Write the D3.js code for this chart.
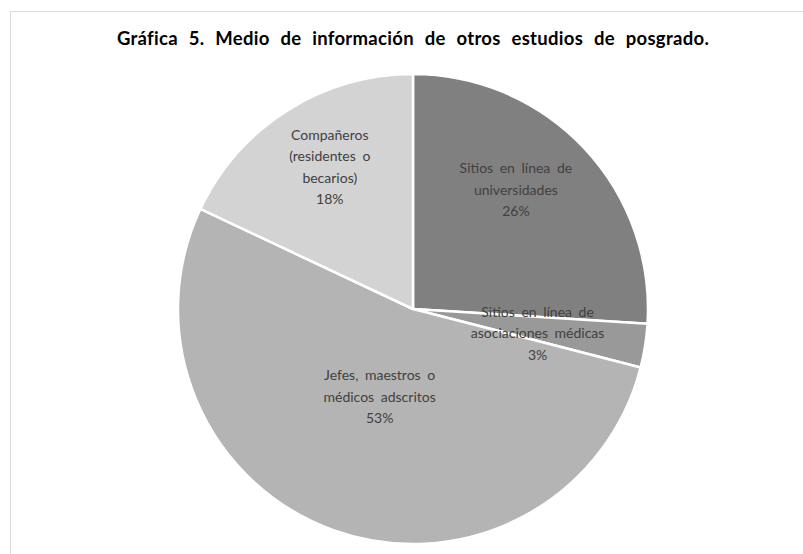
<!DOCTYPE html>
<html>
<head>
<meta charset="utf-8">
<script src="https://cdn.jsdelivr.net/npm/d3@7"></script>
<style>
  html, body { margin: 0; padding: 0; background: #fff; }
  svg { display: block; }
</style>
</head>
<body>
<svg id="chart" width="803" height="554"></svg>
<script>
// ---- data ----
const title = "Gráfica 5. Medio de información de otros estudios de posgrado.";
const categories = [
  "Sitios en línea de universidades",
  "Sitios en línea de asociaciones médicas",
  "Jefes, maestros o médicos adscritos",
  "Compañeros (residentes o becarios)"
];
const categoryLines = [
  ["Sitios en línea de", "universidades"],
  ["Sitios en línea de", "asociaciones médicas"],
  ["Jefes, maestros o", "médicos adscritos"],
  ["Compañeros", "(residentes o", "becarios)"]
];
const values = [26, 3, 53, 18];

// ---- styling / layout ----
const W = 803, H = 554;
const cx = 413, cy = 309, R = 235;
const colors = ["#808080", "#999999", "#b4b4b4", "#d3d3d3"];
const labelRadius = [0.67, 0.54, 0.40, 0.70];
const labelAngleShift = [-6, 2, 1, 2]; // degrees
const lineH = 21.5;
const fontFamily = "Lato, 'Open Sans', 'DejaVu Sans', sans-serif";

const svg = d3.select("#chart");

// chart area border
svg.append("rect")
  .attr("x", 10.5).attr("y", 11.5)
  .attr("width", 800).attr("height", 560)
  .attr("fill", "#fff").attr("stroke", "#d9d9d9").attr("stroke-width", 1);

// title
svg.append("text")
  .attr("x", cx).attr("y", 44.5)
  .attr("text-anchor", "middle")
  .attr("font-family", fontFamily)
  .attr("font-weight", "bold")
  .attr("font-size", 18.5)
  .attr("letter-spacing", 0.3)
  .attr("word-spacing", 6)
  .attr("fill", "#000")
  .text(title);

const pie = d3.pie().sort(null).value(d => d);
const arcs = pie(values);
const arc = d3.arc().innerRadius(0).outerRadius(R);

const g = svg.append("g").attr("transform", `translate(${cx},${cy})`);

g.selectAll("path.slice")
  .data(arcs)
  .join("path")
  .attr("class", "slice")
  .attr("d", arc)
  .attr("fill", (d, i) => colors[i])
  .attr("stroke", "#fff")
  .attr("stroke-width", 2.5)
  .attr("stroke-linejoin", "round");

const labels = g.selectAll("g.label")
  .data(arcs)
  .join("g")
  .attr("class", "label")
  .attr("transform", (d, i) => {
    const a = (d.startAngle + d.endAngle) / 2 + labelAngleShift[i] * Math.PI / 180;
    const r = R * labelRadius[i];
    return `translate(${r * Math.sin(a)},${-r * Math.cos(a)})`;
  });

labels.each(function (d, i) {
  const lines = categoryLines[i].concat([values[i] + "%"]);
  const n = lines.length;
  const t = d3.select(this).append("text")
    .attr("text-anchor", "middle")
    .attr("font-family", fontFamily)
    .attr("font-size", 14)
    .attr("word-spacing", 3)
    .attr("fill", "#404040");
  lines.forEach((ln, k) => {
    t.append("tspan")
      .attr("x", 0)
      .attr("y", (k - (n - 1) / 2) * lineH + 5)
      .text(ln);
  });
});
</script>
</body>
</html>
